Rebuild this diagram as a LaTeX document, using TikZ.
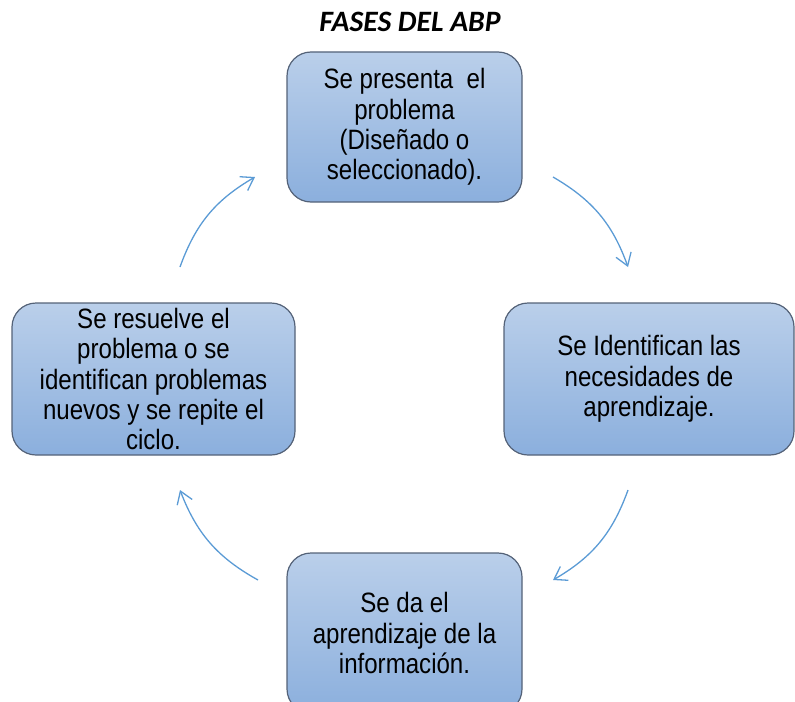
\documentclass[tikz,border=0pt]{standalone}
\usepackage{fontspec}
\setmainfont{Liberation Sans}
\newfontfamily\fasefont{Liberation Sans}[FakeStretch=0.86]
\newfontfamily\titlefont{Carlito}
\usetikzlibrary{arrows.meta, shadings}

\definecolor{azularriba}{RGB}{186,207,234}
\definecolor{azulabajo}{RGB}{139,175,221}
\definecolor{borde}{RGB}{84,98,120}
\definecolor{flechaazul}{RGB}{91,155,213}

\begin{document}
\begin{tikzpicture}[x=0.5pt, y=-0.5pt, >={Straight Barb[length=6pt,width=8pt]}]
  \tikzset{
    fase/.style={
      rectangle,
      rounded corners=12pt,
      draw=borde,
      line width=0.6pt,
      top color=azularriba,
      bottom color=azulabajo,
      inner sep=0pt,
      align=center,
      font=\fasefont\fontsize{14}{15.2}\selectfont},
    flecha/.style={
      ->,
      draw=flechaazul,
      line width=0.65pt,
      bend left=20}}

  \useasboundingbox (0,0) rectangle (795,701);
  \clip (0,0) rectangle (795,701);

  \node[font=\titlefont\bfseries\itshape\fontsize{14.8}{16}\selectfont] (titulo) at (410,22) {FASES DEL ABP};

  \node[fase, minimum width=117.5pt, minimum height=75pt] (f1) at (404.5,127)
    {Se presenta\ \ el\\problema\\(Diseñado o\\seleccionado).};
  \node[fase, minimum width=145pt, minimum height=76pt] (f2) at (649,379)
    {Se Identifican las\\necesidades de\\aprendizaje.};
  \node[fase, minimum width=117.5pt, minimum height=80pt] (f3) at (404.5,633)
    {Se da el\\aprendizaje de la\\información.};
  \node[fase, minimum width=141.5pt, minimum height=76pt] (f4) at (153.5,379)
    {Se resuelve el\\problema o se\\identifican problemas\\nuevos y se repite el\\ciclo.};

  % ends of the cycle arrows
  \coordinate (a1) at (553,177);
  \coordinate (b1) at (628,267);
  \coordinate (a2) at (628,490);
  \coordinate (b2) at (553,580);
  \coordinate (a3) at (258,580);
  \coordinate (b3) at (180,490);
  \coordinate (a4) at (180,267);
  \coordinate (b4) at (255,177);

  \draw[flecha] (a1) to (b1);
  \draw[flecha] (a2) to (b2);
  \draw[flecha] (a3) to (b3);
  \draw[flecha] (a4) to (b4);

\end{tikzpicture}
\end{document}
